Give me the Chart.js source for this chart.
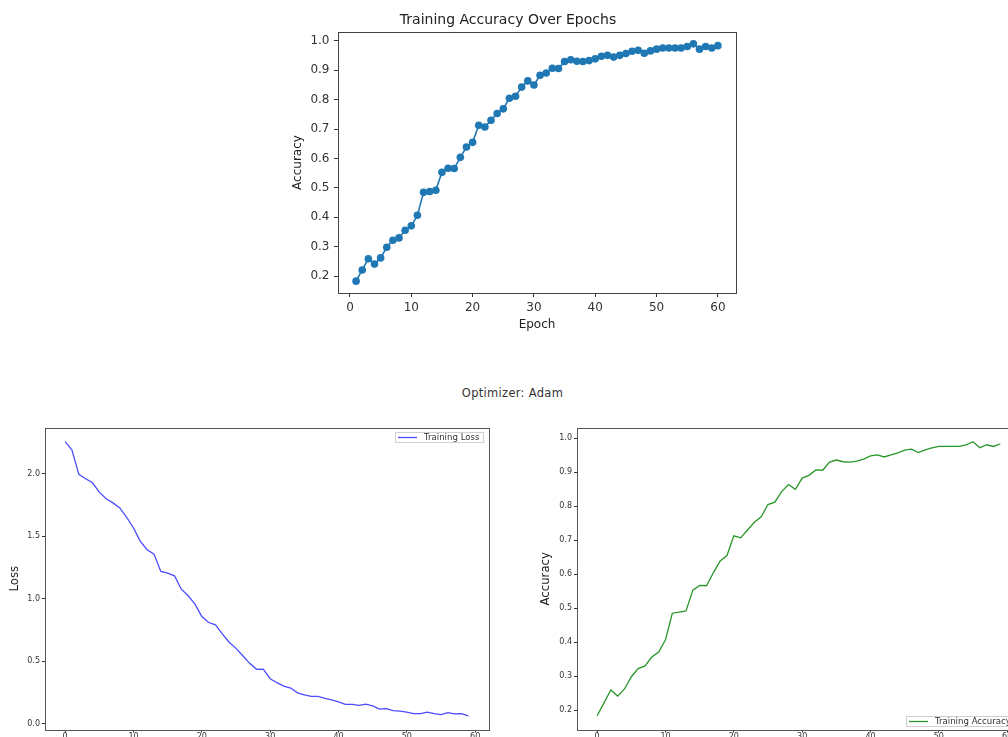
<!DOCTYPE html>
<html lang="en">
  <head>
    <meta charset="UTF-8" />
    <title>Training Accuracy Over Epochs</title>
    <style>
      html, body { margin: 0; padding: 0; background: #fff; }
      body { width: 1008px; height: 737px; overflow: hidden; position: relative; font-family: "DejaVu Sans", sans-serif; }
      canvas { position: absolute; }
      #top-chart { left: 280px; top: 0; }
      #loss-chart { left: 0; top: 420px; }
      #acc-chart { left: 520px; top: 420px; }
      #suptitle { position: absolute; left: 0; width: 1025px; top: 386px; line-height: 14px; text-align: center; font-size: 11.5px; color: #333; letter-spacing: 0.3px; }
    </style>
  </head>
  <body>
    <canvas id="top-chart" width="470" height="340"></canvas>
    <div id="suptitle">Optimizer: Adam</div>
    <canvas id="loss-chart" width="500" height="340"></canvas>
    <canvas id="acc-chart" width="540" height="340"></canvas>
    <script src="https://cdn.jsdelivr.net/npm/chart.js"></script>
    <script>
      // per-epoch training history
      const accuracy = [
        0.183, 0.221, 0.259, 0.241, 0.262, 0.298, 0.322, 0.330, 0.356, 0.371,
        0.407, 0.485, 0.488, 0.492, 0.553, 0.567, 0.566, 0.604, 0.639, 0.655,
        0.713, 0.707, 0.730, 0.753, 0.769, 0.805, 0.812, 0.843, 0.864, 0.850,
        0.883, 0.891, 0.907, 0.906, 0.930, 0.936, 0.931, 0.930, 0.933, 0.939,
        0.948, 0.951, 0.945, 0.951, 0.957, 0.965, 0.968, 0.958, 0.966, 0.972,
        0.976, 0.976, 0.976, 0.976, 0.981, 0.990, 0.972, 0.981, 0.976, 0.984,
      ];
      const loss = [
        2.257, 2.190, 1.995, 1.960, 1.928, 1.853, 1.800, 1.767, 1.727, 1.652,
        1.566, 1.459, 1.392, 1.357, 1.218, 1.205, 1.183, 1.076, 1.023, 0.956,
        0.857, 0.809, 0.790, 0.718, 0.651, 0.602, 0.543, 0.482, 0.434, 0.436,
        0.359, 0.327, 0.300, 0.284, 0.246, 0.230, 0.217, 0.217, 0.201, 0.190,
        0.174, 0.153, 0.153, 0.145, 0.155, 0.142, 0.115, 0.120, 0.104, 0.099,
        0.091, 0.080, 0.080, 0.091, 0.080, 0.072, 0.088, 0.078, 0.080, 0.062,
      ];
      const epochTicks = [0, 10, 20, 30, 40, 50, 60];
      const accTicks = [0.2, 0.3, 0.4, 0.5, 0.6, 0.7, 0.8, 0.9, 1.0];
      const lossTicks = [0.0, 0.5, 1.0, 1.5, 2.0];

      // matplotlib style 5% margins around the data
      const limits = (vals) => {
        const lo = Math.min(...vals), hi = Math.max(...vals);
        const m = (hi - lo) * 0.05;
        return { min: lo - m, max: hi + m };
      };
      const points = (vals, start) => vals.map((v, i) => ({ x: i + start, y: v }));

      // four-sided axes box like matplotlib spines
      const frame = {
        id: "frame",
        afterDraw(chart, args, opts) {
          const { ctx, chartArea: a } = chart;
          ctx.save();
          ctx.strokeStyle = opts.color || "#444";
          ctx.lineWidth = 1;
          ctx.strokeRect(Math.round(a.left) + 0.5, Math.round(a.top) + 0.5,
            Math.round(a.right - a.left), Math.round(a.bottom - a.top));
          ctx.restore();
        },
      };

      // small boxed legend inside the plot area
      const boxLegend = {
        id: "boxLegend",
        afterDraw(chart, args, opts) {
          if (!opts.corner) return;
          const { ctx, chartArea: a } = chart;
          const ds = chart.data.datasets[0];
          ctx.save();
          ctx.font = "8.6px 'DejaVu Sans'";
          const tw = ctx.measureText(ds.label).width;
          const w = Math.round(3 + 19 + 7 + tw + 4), h = 10;
          const x = Math.round(a.right - 6 - w);
          const y = opts.corner === "tr" ? Math.round(a.top + 4) : Math.round(a.bottom - 4 - h);
          ctx.fillStyle = "rgba(255,255,255,0.85)";
          ctx.fillRect(x, y, w, h);
          ctx.strokeStyle = "#d0d0d0";
          ctx.lineWidth = 1;
          ctx.strokeRect(x + 0.5, y + 0.5, w, h);
          ctx.strokeStyle = ds.borderColor;
          ctx.lineWidth = ds.borderWidth;
          ctx.beginPath();
          ctx.moveTo(x + 3, y + h / 2 + 0.5);
          ctx.lineTo(x + 22, y + h / 2 + 0.5);
          ctx.stroke();
          ctx.fillStyle = "#333";
          ctx.textBaseline = "middle";
          ctx.fillText(ds.label, x + 29, y + h / 2 + 1);
          ctx.restore();
        },
      };

      const axis = ({ lim, ticks, size, horiz, title, tick, tl, pad, digits }) => ({
        type: "linear",
        min: lim.min,
        max: lim.max,
        grid: { drawOnChartArea: false, drawTicks: true, tickLength: tl, color: "#333" },
        border: { display: false },
        ticks: {
          autoSkip: false,
          maxRotation: 0,
          padding: pad,
          color: "#333",
          font: tick,
          callback: (v) => v.toFixed(digits),
        },
        title: { display: !!title.text, text: title.text, color: "#222", font: title.font, padding: title.padding },
        afterBuildTicks: (s) => { s.ticks = ticks.map((v) => ({ value: v })); },
        afterFit: (s) => {
          if (horiz) s.height = size; else s.width = size;
          s.paddingTop = s.paddingBottom = s.paddingLeft = s.paddingRight = 0;
        },
      });

      const baseOptions = (padding) => ({
        responsive: false,
        animation: false,
        layout: { padding },
        plugins: { legend: { display: false }, tooltip: { enabled: false } },
      });

      // top: accuracy with markers
      const topOpts = baseOptions({ top: 0, right: 14, left: 0, bottom: 0 });
      topOpts.plugins.title = {
        display: true,
        text: "Training Accuracy Over Epochs",
        color: "#222",
        font: { family: "DejaVu Sans", size: 14, weight: "normal" },
        padding: { top: 12, bottom: 3.2 },
      };
      topOpts.scales = {
        x: axis({
          lim: limits(points(accuracy, 1).map((p) => p.x)), ticks: epochTicks, size: 47, horiz: true,
          title: { text: "Epoch", font: { family: "DejaVu Sans", size: 12 }, padding: { top: 0, bottom: 8.3 } },
          tick: { family: "DejaVu Sans", size: 12 }, tl: 4, pad: 3.5, digits: 0,
        }),
        y: axis({
          lim: limits(accuracy), ticks: accTicks, size: 58, horiz: false,
          title: { text: "Accuracy", font: { family: "DejaVu Sans", size: 12 }, padding: { top: 10.5, bottom: 0 } },
          tick: { family: "DejaVu Sans", size: 12 }, tl: 4, pad: 4.5, digits: 1,
        }),
      };
      topOpts.plugins.frame = { color: "#444" };

      new Chart(document.getElementById("top-chart"), {
        type: "line",
        data: {
          datasets: [{
            label: "Accuracy",
            data: points(accuracy, 1),
            borderColor: "#1f77b4",
            backgroundColor: "#1f77b4",
            borderWidth: 1.6,
            pointRadius: 3.8,
            pointBorderWidth: 0,
            tension: 0,
          }],
        },
        options: topOpts,
        plugins: [frame],
      });

      const narrow = "'DejaVu Sans Condensed', 'Liberation Sans Narrow', 'DejaVu Sans'";
      const smallTick = { family: "DejaVu Sans", size: 8 };

      // bottom left: loss
      const lossOpts = baseOptions({ top: 8, right: 11.5, left: 0, bottom: 0 });
      lossOpts.scales = {
        x: axis({
          lim: limits(points(loss, 0).map((p) => p.x)), ticks: epochTicks, size: 30.5, horiz: true,
          title: { text: "", font: smallTick, padding: 0 },
          tick: smallTick, tl: 3, pad: 0, digits: 0,
        }),
        y: axis({
          lim: limits(loss), ticks: lossTicks, size: 45, horiz: false,
          title: { text: "Loss", font: { family: narrow, size: 13 }, padding: { top: 7, bottom: 0 } },
          tick: smallTick, tl: 3, pad: 2, digits: 1,
        }),
      };
      lossOpts.plugins.frame = { color: "#555" };
      lossOpts.plugins.boxLegend = { corner: "tr" };

      new Chart(document.getElementById("loss-chart"), {
        type: "line",
        data: {
          datasets: [{
            label: "Training Loss",
            data: points(loss, 0),
            borderColor: "rgba(30,30,255,0.8)",
            borderWidth: 1.3,
            pointRadius: 0,
            tension: 0,
          }],
        },
        options: lossOpts,
        plugins: [frame, boxLegend],
      });

      // bottom right: accuracy line (runs past the right edge of the page)
      const accOpts = baseOptions({ top: 8, right: 39.5, left: 0, bottom: 0 });
      accOpts.scales = {
        x: axis({
          lim: limits(points(accuracy, 0).map((p) => p.x)), ticks: epochTicks, size: 30.5, horiz: true,
          title: { text: "", font: smallTick, padding: 0 },
          tick: smallTick, tl: 3, pad: 0, digits: 0,
        }),
        y: axis({
          lim: limits(accuracy), ticks: accTicks, size: 57, horiz: false,
          title: { text: "Accuracy", font: { family: narrow, size: 13 }, padding: { top: 18, bottom: 0 } },
          tick: smallTick, tl: 3, pad: 2, digits: 1,
        }),
      };
      accOpts.plugins.frame = { color: "#555" };
      accOpts.plugins.boxLegend = { corner: "br" };

      new Chart(document.getElementById("acc-chart"), {
        type: "line",
        data: {
          datasets: [{
            label: "Training Accuracy",
            data: points(accuracy, 0),
            borderColor: "rgb(40,150,40)",
            borderWidth: 1.3,
            pointRadius: 0,
            tension: 0,
          }],
        },
        options: accOpts,
        plugins: [frame, boxLegend],
      });
    </script>
  </body>
</html>
